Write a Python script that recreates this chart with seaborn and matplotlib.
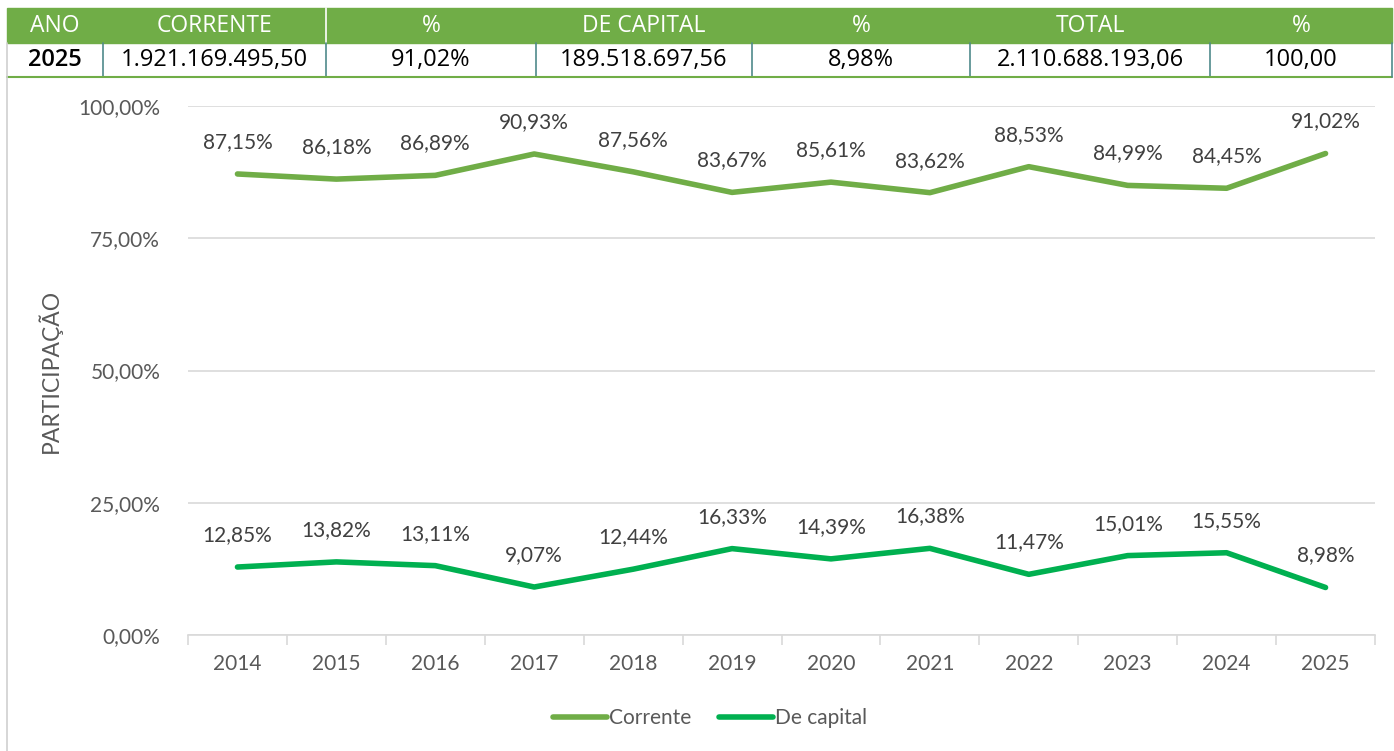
import pandas as pd
import numpy as np
import matplotlib.pyplot as plt
import seaborn as sns
from matplotlib.patches import Rectangle
from matplotlib.lines import Line2D

# Dados
anos = ["2014", "2015", "2016", "2017", "2018", "2019",
        "2020", "2021", "2022", "2023", "2024", "2025"]
corrente = [87.15, 86.18, 86.89, 90.93, 87.56, 83.67,
            85.61, 83.62, 88.53, 84.99, 84.45, 91.02]
de_capital = [12.85, 13.82, 13.11, 9.07, 12.44, 16.33,
              14.39, 16.38, 11.47, 15.01, 15.55, 8.98]
series = ["Corrente", "De capital"]
cores = ["#70AD47", "#00B050"]

tab_cab = ["ANO", "CORRENTE", "%", "DE CAPITAL", "%", "TOTAL", "%"]
tab_lin = ["2025", "1.921.169.495,50", "91,02%", "189.518.697,56", "8,98%",
           "2.110.688.193,06", "100,00"]

df = pd.DataFrame({
    "pos": list(range(len(anos))) * 2,
    "valor": corrente + de_capital,
    "serie": [series[0]] * len(anos) + [series[1]] * len(anos),
})

sns.set_theme(style="white")
plt.rcParams["font.family"] = ["Lato", "DejaVu Sans"]

W, H = 1394, 751
fig = plt.figure(figsize=(W / 100, H / 100), dpi=100)


def fx(px):
    return px / W


def fy(py):
    return 1 - py / H


# Tabela no topo
bordas = [7, 103, 326, 536, 752, 970, 1210, 1392]
fig.patches.append(Rectangle((fx(7), fy(43)), fx(1392 - 7), 35 / H,
                             transform=fig.transFigure, color="#70AD47", zorder=0))
fig.add_artist(Line2D([fx(326), fx(326)], [fy(43), fy(8)], color="white", lw=1.2))
for i, txt in enumerate(tab_cab):
    cx = (bordas[i] + bordas[i + 1]) / 2
    fig.text(fx(cx), fy(26), txt, ha="center", va="center", color="white",
             fontsize=16.5, family=["Open Sans", "DejaVu Sans"])
for i, txt in enumerate(tab_lin):
    cx = (bordas[i] + bordas[i + 1]) / 2
    peso = "semibold" if i == 0 else ("medium" if i in (5, 6) else "normal")
    fig.text(fx(cx), fy(60), txt, ha="center", va="center", color="black",
             fontsize=17, fontweight=peso, family=["Open Sans", "DejaVu Sans"])
for b in bordas[1:-1]:
    fig.add_artist(Line2D([fx(b), fx(b)], [fy(77), fy(43)], color="#4F8A8B", lw=1.2))
fig.add_artist(Line2D([fx(7), fx(1392)], [fy(77), fy(77)], color="#70AD47", lw=1.5))
fig.add_artist(Line2D([fx(1392), fx(1392)], [fy(77), fy(43)], color="#4F8A8B", lw=1.2))
fig.add_artist(Line2D([fx(7), fx(7)], [fy(751), fy(43)], color="#D0D0D0", lw=1.2))

# Grafico
ax = fig.add_axes([fx(188), 1 - 635 / H, fx(1375 - 188), (635 - 106) / H])
sns.lineplot(data=df, x="pos", y="valor", hue="serie", palette=cores,
             linewidth=4, ax=ax, legend=False)
for linha in ax.lines:
    linha.set_solid_capstyle("round")
    linha.set_solid_joinstyle("round")

for vals in (corrente, de_capital):
    for i, v in enumerate(vals):
        ax.annotate(f"{v:.2f}%".replace(".", ","), (i, v), xytext=(0, 23),
                    textcoords="offset points", ha="center", va="center",
                    fontsize=15, color="#404040")

ax.set_xlim(-0.5, len(anos) - 0.5)
ax.set_ylim(0, 100)
ax.set_yticks([0, 25, 50, 75, 100])
ax.set_yticklabels([f"{t:.2f}%".replace(".", ",") for t in [0, 25, 50, 75, 100]])
ax.set_xticks(range(len(anos)))
ax.set_xticklabels(anos)
ax.set_xticks(np.arange(-0.5, len(anos)), minor=True)
ax.tick_params(axis="x", which="major", length=0, pad=14, labelsize=15, labelcolor="#595959")
ax.tick_params(axis="x", which="minor", length=7, color="#D9D9D9", width=1.2, direction="out", bottom=True)
ax.tick_params(axis="y", length=0, pad=20, labelsize=15, labelcolor="#595959")
ax.grid(axis="y", color="#D9D9D9", lw=1.2)
ax.set_axisbelow(True)
for lado in ("top", "right", "left"):
    ax.spines[lado].set_visible(False)
ax.spines["bottom"].set_color("#D9D9D9")
ax.spines["bottom"].set_linewidth(1.2)
ax.set_xlabel("")
ax.set_ylabel("PARTICIPAÇÃO", fontsize=16.5, color="#595959", labelpad=12)

handles = [Line2D([], [], color=c, lw=4, solid_capstyle="round") for c in cores]
fig.legend(handles, series, loc="center", bbox_to_anchor=(fx(710), fy(718)), ncol=2,
           frameon=False, fontsize=15, handlelength=2.6, handletextpad=0.1,
           columnspacing=1.3, labelcolor="#595959")

fig.savefig("out.png", dpi=100)
